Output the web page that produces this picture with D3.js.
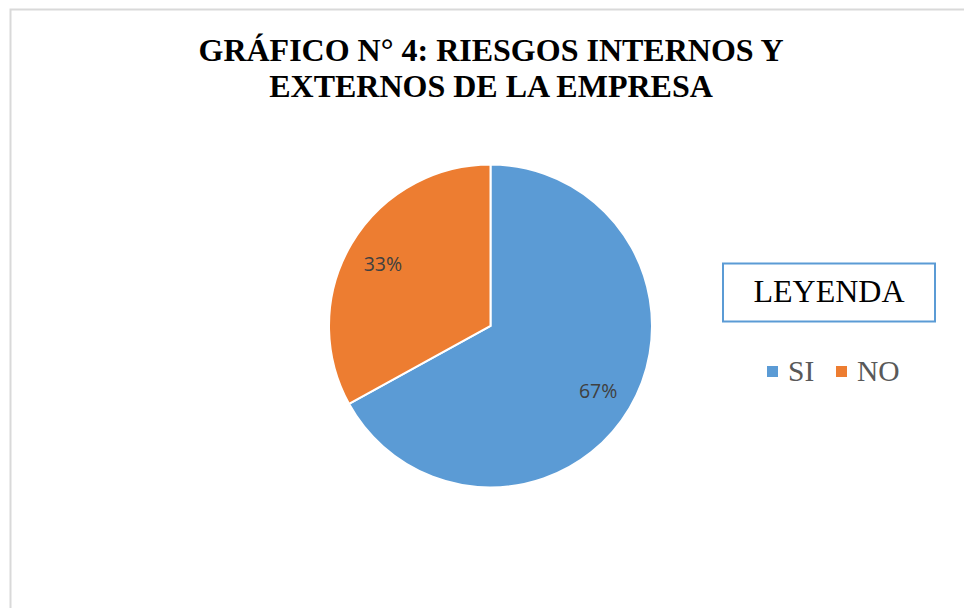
<!DOCTYPE html>
<html><head><meta charset="utf-8">
<script src="https://cdn.jsdelivr.net/npm/d3@7"></script>
<style>body{margin:0;background:#fff}svg{display:block}</style>
</head><body><svg id="c" width="964" height="608"></svg>
<script>
const categories = ["SI", "NO"];
const values = [67, 33];
const labels = ["67%", "33%"];
const colors = ["#5B9BD5", "#ED7D31"];
const titleLines = ["GRÁFICO N° 4: RIESGOS INTERNOS Y", "EXTERNOS DE LA EMPRESA"];

const svg = d3.select("#c");
svg.append("rect").attr("x", 10.5).attr("y", 9.5).attr("width", 1000).attr("height", 700)
  .attr("fill", "#fff").attr("stroke", "#d9d9d9").attr("stroke-width", 2);

svg.append("g").selectAll("text").data(titleLines).join("text")
  .attr("x", 491).attr("y", (d, i) => 61 + i * 36)
  .attr("text-anchor", "middle")
  .attr("font-family", "Liberation Serif, Times New Roman, serif")
  .attr("font-weight", "bold").attr("font-size", 32).attr("fill", "#000")
  .text(d => d);

const cx = 490.5, cy = 326, r = 161.5;
const data = categories.map((c, i) => ({ c, v: values[i], l: labels[i], col: colors[i] }));
const pie = d3.pie().value(d => d.v).sort(null);
const arcs = pie(data);
const arc = d3.arc().innerRadius(0).outerRadius(r);
const labelArc = d3.arc().innerRadius(125).outerRadius(125);
const g = svg.append("g").attr("transform", `translate(${cx},${cy})`);
g.selectAll("path").data(arcs).join("path")
  .attr("d", arc).attr("fill", d => d.data.col)
  .attr("stroke", "#fff").attr("stroke-width", 2);
g.selectAll("text").data(arcs).join("text")
  .attr("transform", d => { const p = labelArc.centroid(d); return `translate(${p[0]},${p[1] + 3})`; })
  .attr("text-anchor", "middle").attr("dominant-baseline", "middle")
  .attr("font-family", "Open Sans, Liberation Sans, sans-serif")
  .attr("font-size", 19.5).attr("fill", "#404040")
  .text(d => d.data.l);

// legend title box
svg.append("rect").attr("x", 723).attr("y", 263.5).attr("width", 212).attr("height", 58)
  .attr("fill", "#fff").attr("stroke", "#5B9BD5").attr("stroke-width", 2);
svg.append("text").attr("x", 829).attr("y", 302).attr("text-anchor", "middle")
  .attr("font-family", "Liberation Serif, Times New Roman, serif").attr("font-size", 32)
  .attr("fill", "#000").text("LEYENDA");

const legX = [767, 836];
const lg = svg.append("g").selectAll("g").data(data).join("g")
  .attr("transform", (d, i) => `translate(${legX[i]},366)`);
lg.append("rect").attr("width", 11).attr("height", 11).attr("fill", d => d.col);
lg.append("text").attr("x", 21).attr("y", 15)
  .attr("font-family", "Liberation Serif, Times New Roman, serif").attr("font-size", 29.5)
  .attr("fill", "#595959").text(d => d.c);
</script></body></html>
